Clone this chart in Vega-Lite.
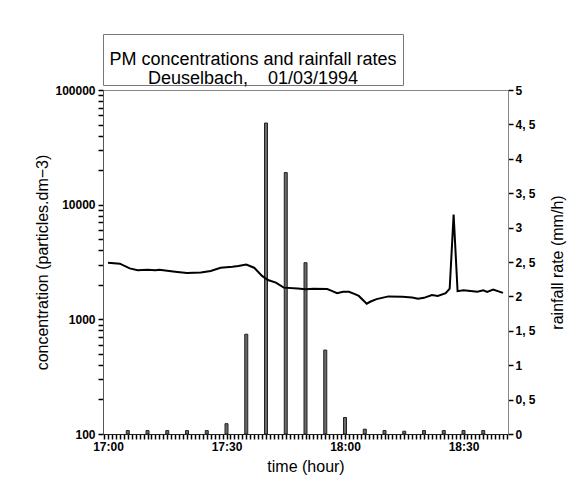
{
  "$schema": "https://vega.github.io/schema/vega-lite/v6.json",
  "background": "white",
  "padding": {"left": 34, "top": 33, "right": 5, "bottom": 5},
  "config": {
    "view": {"stroke": "#888", "strokeWidth": 1},
    "font": "Liberation Sans",
    "axis": {
      "labelFont": "Liberation Sans",
      "labelFontWeight": "bold",
      "labelFontSize": 12,
      "labelColor": "#000",
      "titleFont": "Liberation Sans",
      "titleFontWeight": "normal",
      "titleFontSize": 16,
      "titleColor": "#000"
    }
  },
  "datasets": {
    "rain": [
      {"time": "1994-03-01T17:05:00", "rate": 0.05},
      {"time": "1994-03-01T17:10:00", "rate": 0.05},
      {"time": "1994-03-01T17:15:00", "rate": 0.05},
      {"time": "1994-03-01T17:20:00", "rate": 0.05},
      {"time": "1994-03-01T17:25:00", "rate": 0.05},
      {"time": "1994-03-01T17:30:00", "rate": 0.15},
      {"time": "1994-03-01T17:35:00", "rate": 1.45},
      {"time": "1994-03-01T17:40:00", "rate": 4.52},
      {"time": "1994-03-01T17:45:00", "rate": 3.8},
      {"time": "1994-03-01T17:50:00", "rate": 2.49},
      {"time": "1994-03-01T17:55:00", "rate": 1.22},
      {"time": "1994-03-01T18:00:00", "rate": 0.24},
      {"time": "1994-03-01T18:05:00", "rate": 0.07},
      {"time": "1994-03-01T18:10:00", "rate": 0.05},
      {"time": "1994-03-01T18:15:00", "rate": 0.04},
      {"time": "1994-03-01T18:20:00", "rate": 0.05},
      {"time": "1994-03-01T18:25:00", "rate": 0.05},
      {"time": "1994-03-01T18:30:00", "rate": 0.05},
      {"time": "1994-03-01T18:35:00", "rate": 0.05}
    ],
    "pm": [
      {"time": "1994-03-01T17:00:00", "conc": 3120},
      {"time": "1994-03-01T17:03:00", "conc": 3060},
      {"time": "1994-03-01T17:05:30", "conc": 2780},
      {"time": "1994-03-01T17:07:30", "conc": 2680},
      {"time": "1994-03-01T17:10:00", "conc": 2700},
      {"time": "1994-03-01T17:12:00", "conc": 2680},
      {"time": "1994-03-01T17:13:00", "conc": 2710},
      {"time": "1994-03-01T17:14:30", "conc": 2670},
      {"time": "1994-03-01T17:17:00", "conc": 2600},
      {"time": "1994-03-01T17:20:00", "conc": 2530},
      {"time": "1994-03-01T17:23:30", "conc": 2560},
      {"time": "1994-03-01T17:26:00", "conc": 2640},
      {"time": "1994-03-01T17:28:30", "conc": 2820},
      {"time": "1994-03-01T17:31:30", "conc": 2870},
      {"time": "1994-03-01T17:33:00", "conc": 2920},
      {"time": "1994-03-01T17:35:00", "conc": 3010},
      {"time": "1994-03-01T17:37:00", "conc": 2820},
      {"time": "1994-03-01T17:39:00", "conc": 2390},
      {"time": "1994-03-01T17:40:30", "conc": 2200},
      {"time": "1994-03-01T17:42:30", "conc": 2090},
      {"time": "1994-03-01T17:44:30", "conc": 1890},
      {"time": "1994-03-01T17:48:00", "conc": 1860},
      {"time": "1994-03-01T17:50:00", "conc": 1830},
      {"time": "1994-03-01T17:52:00", "conc": 1850},
      {"time": "1994-03-01T17:55:30", "conc": 1840},
      {"time": "1994-03-01T17:56:30", "conc": 1780},
      {"time": "1994-03-01T17:58:00", "conc": 1690},
      {"time": "1994-03-01T17:59:30", "conc": 1740},
      {"time": "1994-03-01T18:01:00", "conc": 1740},
      {"time": "1994-03-01T18:02:30", "conc": 1660},
      {"time": "1994-03-01T18:03:30", "conc": 1600},
      {"time": "1994-03-01T18:05:30", "conc": 1370},
      {"time": "1994-03-01T18:06:30", "conc": 1430},
      {"time": "1994-03-01T18:08:00", "conc": 1500},
      {"time": "1994-03-01T18:11:00", "conc": 1585},
      {"time": "1994-03-01T18:14:30", "conc": 1575},
      {"time": "1994-03-01T18:17:00", "conc": 1550},
      {"time": "1994-03-01T18:18:30", "conc": 1515},
      {"time": "1994-03-01T18:20:00", "conc": 1540},
      {"time": "1994-03-01T18:22:00", "conc": 1630},
      {"time": "1994-03-01T18:23:30", "conc": 1600},
      {"time": "1994-03-01T18:25:30", "conc": 1690},
      {"time": "1994-03-01T18:26:30", "conc": 1850},
      {"time": "1994-03-01T18:27:30", "conc": 8200},
      {"time": "1994-03-01T18:28:30", "conc": 1760},
      {"time": "1994-03-01T18:30:00", "conc": 1790},
      {"time": "1994-03-01T18:33:30", "conc": 1740},
      {"time": "1994-03-01T18:35:00", "conc": 1790},
      {"time": "1994-03-01T18:36:00", "conc": 1730},
      {"time": "1994-03-01T18:37:30", "conc": 1820},
      {"time": "1994-03-01T18:40:00", "conc": 1700}
    ]
  },
  "spacing": 5,
  "bounds": "flush",
  "vconcat": [
    {
      "width": 300,
      "height": 51,
      "view": {"stroke": "#777", "strokeWidth": 1},
      "data": {"values": [{"k": 1}]},
      "mark": {"type": "text", "font": "Liberation Sans", "fontSize": 18, "lineHeight": 19, "baseline": "middle", "align": "center", "color": "#000"},
      "encoding": {
        "text": {"value": ["PM concentrations and rainfall rates", "Deuselbach,\u00a0\u00a0\u00a0\u00a001/03/1994"]}
      }
    },
    {
      "width": 405,
      "height": 344,
      "resolve": {"scale": {"y": "independent"}},
      "encoding": {
        "x": {
          "field": "time",
          "type": "temporal",
          "scale": {"domain": [
            {"year": 1994, "month": 3, "date": 1, "hours": 17, "minutes": 0},
            {"year": 1994, "month": 3, "date": 1, "hours": 18, "minutes": 40}
          ]},
          "axis": {
            "title": "time (hour)",
            "grid": false,
            "tickCount": 100,
            "format": "%H:%M",
            "labelExpr": "minutes(datum.value) % 30 == 0 ? datum.label : ''",
            "labelFlush": false,
            "labelOverlap": false,
            "tickSize": 5,
            "tickWidth": 1.5,
            "tickColor": "#000",
            "labelPadding": 2,
            "titlePadding": 6,
            "domainColor": "#222"
          }
        }
      },
      "layer": [
        {
          "data": {"name": "rain"},
          "mark": {"type": "bar", "size": 3, "fill": "#6a6a6a", "stroke": "#222", "strokeWidth": 1, "orient": "vertical"},
          "encoding": {
            "y": {
              "field": "rate",
              "type": "quantitative",
              "scale": {"domain": [0, 5], "nice": false},
              "axis": {
                "orient": "right",
                "grid": false,
                "title": "rainfall rate (mm/h)",
                "titleAngle": 270,
                "tickCount": 10,
                "labelExpr": "replace(format(datum.value, '.1~f'), '.', ', ')",
                "labelOverlap": false,
                "tickSize": 5,
                "tickWidth": 1.5,
                "tickColor": "#000",
                "labelPadding": 2,
                "titlePadding": 30,
                "domainColor": "#888"
              }
            }
          }
        },
        {
          "data": {"name": "pm"},
          "mark": {"type": "line", "color": "#000", "strokeWidth": 2},
          "encoding": {
            "y": {
              "field": "conc",
              "type": "quantitative",
              "scale": {"type": "log", "domain": [100, 100000], "nice": false},
              "axis": {
                "orient": "left",
                "grid": false,
                "title": "concentration (particles.dm−3)",
                "tickCount": 10,
                "labelExpr": "(datum.value == 100 || datum.value == 1000 || datum.value == 10000 || datum.value == 100000) ? format(datum.value, 'd') : ''",
                "labelOverlap": false,
                "tickSize": 5,
                "tickWidth": 1.5,
                "tickColor": "#000",
                "labelPadding": 3,
                "titlePadding": 4,
                "domainColor": "#555"
              }
            }
          }
        }
      ]
    }
  ]
}
